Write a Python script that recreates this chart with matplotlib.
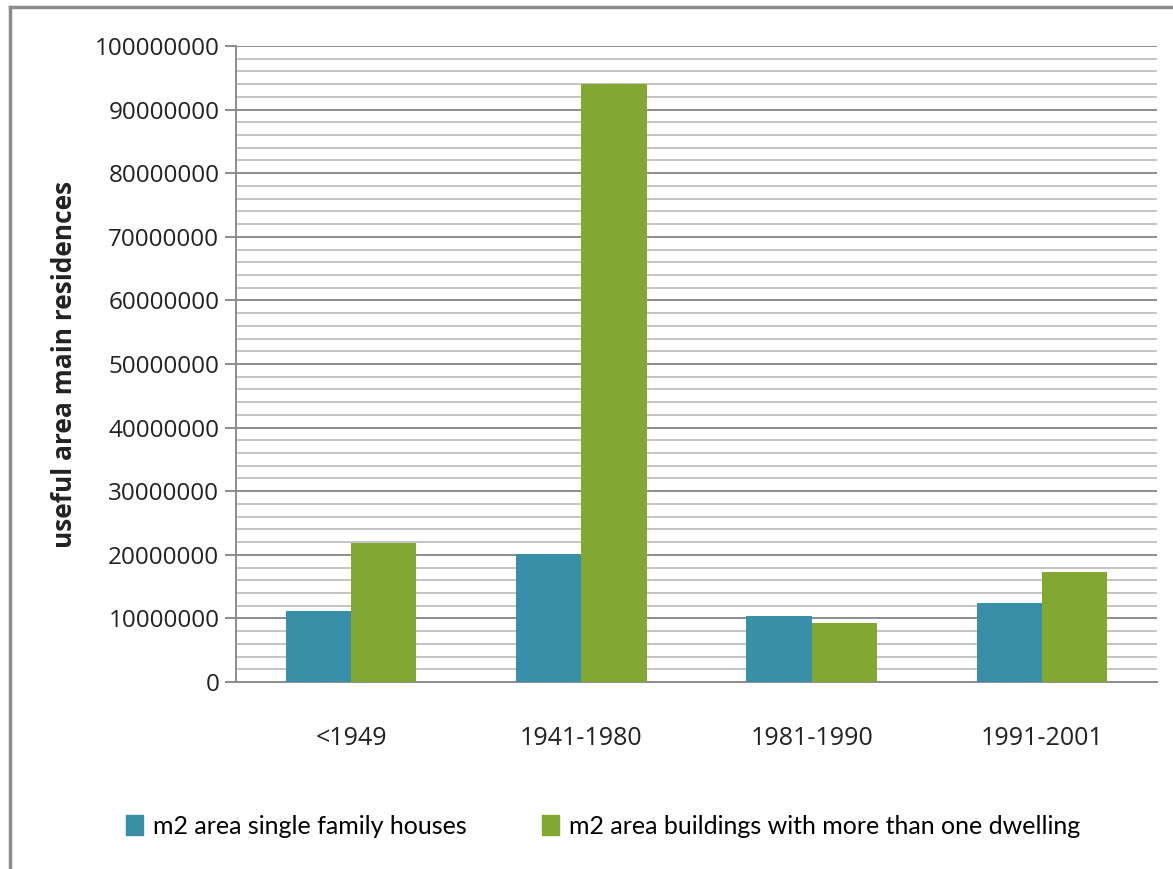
import numpy as np
import matplotlib
matplotlib.use("Agg")
import matplotlib.pyplot as plt
from matplotlib.lines import Line2D
from matplotlib.ticker import MultipleLocator

# values
categories = ["<1949", "1941-1980", "1981-1990", "1991-2001"]
single_family = [11200000, 20200000, 10400000, 12500000]
multi_dwelling = [21800000, 94000000, 9200000, 17300000]
series_names = ["m2 area single family houses",
                "m2 area buildings with more than one dwelling"]

BLUE = "#3A8FA8"
GREEN = "#83A832"

fig = plt.figure(figsize=(11.73, 8.69), dpi=100)
ax = fig.add_axes([236 / 1173, 187 / 869, 921 / 1173, 636 / 869])

x = np.arange(len(categories))
w = 0.283
ax.bar(x - w / 2, single_family, width=w, color=BLUE, zorder=3)
ax.bar(x + w / 2, multi_dwelling, width=w, color=GREEN, zorder=3)

ax.set_xlim(-0.5, len(categories) - 0.5)
ax.set_ylim(0, 100000000)
ax.yaxis.set_major_locator(MultipleLocator(10000000))
ax.yaxis.set_minor_locator(MultipleLocator(2000000))
ax.yaxis.set_major_formatter(plt.FuncFormatter(lambda v, p: f"{int(v)}"))

ax.grid(which="major", axis="y", color="#8c8c8c", linewidth=1.4, zorder=0)
ax.grid(which="minor", axis="y", color="#c4c4c4", linewidth=1.4, zorder=0)

for s in ["top", "right"]:
    ax.spines[s].set_visible(False)
for s in ["left", "bottom"]:
    ax.spines[s].set_color("#8c8c8c")
    ax.spines[s].set_linewidth(1.4)

ax.set_xticks(x)
ax.set_xticklabels(categories, fontsize=18, fontfamily="Open Sans", color="#222222")
ax.tick_params(axis="x", length=0, pad=32)
ax.tick_params(axis="y", which="major", length=8, color="#8c8c8c", width=1.4,
               labelsize=17.5, pad=4, labelcolor="#222222")
ax.tick_params(axis="y", which="minor", length=0)
for lbl in ax.get_yticklabels():
    lbl.set_fontfamily("Open Sans")

ax.set_ylabel("useful area main residences", fontsize=19, fontweight="bold",
              fontfamily="Open Sans", color="#222222", labelpad=12)

handles = [plt.Rectangle((0, 0), 1, 1, color=BLUE),
           plt.Rectangle((0, 0), 1, 1, color=GREEN)]
fig.legend(handles, series_names, loc="center", bbox_to_anchor=(603 / 1173, 1 - 826 / 869),
           ncol=2, frameon=False, handlelength=0.7, handleheight=0.9, handletextpad=0.4,
           columnspacing=3.0, prop={"family": "Lato", "size": 18})

# outer frame
fig.add_artist(Line2D([10 / 1173, 10 / 1173], [0, 1 - 7 / 869], color="#8c8c8c", lw=2.5))
fig.add_artist(Line2D([10 / 1173, 1], [1 - 7 / 869, 1 - 7 / 869], color="#8c8c8c", lw=2.5))

fig.savefig("out.png", dpi=100)
